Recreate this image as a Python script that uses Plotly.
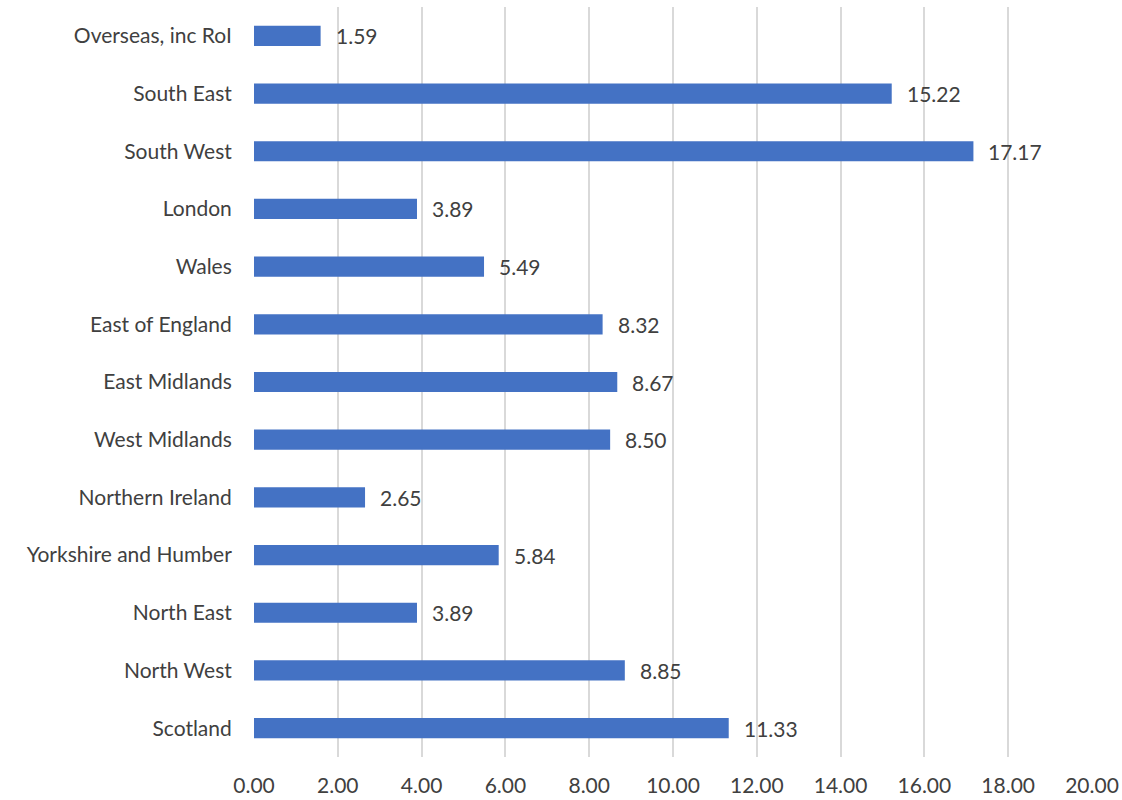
import plotly.graph_objects as go

categories = ["Scotland", "North West", "North East", "Yorkshire and Humber", "Northern Ireland",
              "West Midlands", "East Midlands", "East of England", "Wales", "London",
              "South West", "South East", "Overseas, inc RoI"]
values = [11.33, 8.85, 3.89, 5.84, 2.65, 8.50, 8.67, 8.32, 5.49, 3.89, 17.17, 15.22, 1.59]
x_ticks = [0, 2, 4, 6, 8, 10, 12, 14, 16, 18, 20]

FONT = "Lato"
TXT = "#404040"
FS = 21

fig = go.Figure(go.Bar(
    y=categories, x=values, orientation="h",
    marker=dict(color="#4472C4", line=dict(width=0)),
))

for c, v in zip(categories, values):
    fig.add_annotation(x=v, y=c, text=f"{v:.2f}", showarrow=False,
                       xanchor="left", xshift=13,
                       font=dict(family=FONT, size=FS, color=TXT))

fig.update_layout(
    width=1122, height=800,
    margin=dict(l=254, r=30, t=7, b=43, autoexpand=False),
    plot_bgcolor="white", paper_bgcolor="white",
    bargap=0.65, showlegend=False,
    font=dict(family=FONT, size=FS, color=TXT),
)
fig.update_xaxes(range=[0, 20], tickvals=x_ticks, tickformat=".2f",
                 showgrid=True, gridcolor="#D9D9D9", gridwidth=1.5,
                 zeroline=False, showline=False,
                 ticks="outside", ticklen=10, tickcolor="rgba(0,0,0,0)",
                 tickfont=dict(family=FONT, size=FS, color=TXT))
fig.update_yaxes(showgrid=False, zeroline=False, showline=False,
                 ticks="outside", ticklen=17, tickcolor="rgba(0,0,0,0)",
                 tickfont=dict(family=FONT, size=FS, color=TXT))

fig.write_html("out.html", config={"displayModeBar": False},
               post_script="document.body.style.margin='0';document.body.style.overflow='hidden';")
